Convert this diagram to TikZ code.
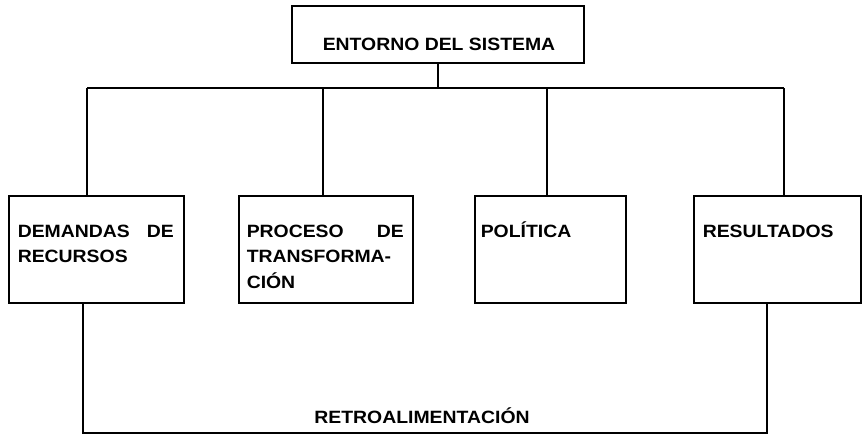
\documentclass[tikz,border=0pt]{standalone}
\usepackage{fontspec}
\setmainfont[FakeStretch=1.09,BoldFeatures={FakeStretch=1.09}]{Liberation Sans}
\begin{document}
\begin{tikzpicture}[x=1pt,y=-1pt,
  line width=1.5pt,
  box/.style={draw, line width=1.5pt, anchor=north west, inner sep=0pt, minimum height=107pt},
  txt/.style={anchor=base west, inner sep=0pt, font=\fontsize{17.8}{25.8}\selectfont\bfseries},
  ctxt/.style={anchor=base, inner sep=0pt, font=\fontsize{17.8}{25.8}\selectfont\bfseries}]
\useasboundingbox (0,0) rectangle (863,437);
% top box
\node[draw, line width=1.5pt, anchor=north west, inner sep=0pt, minimum width=292pt, minimum height=57pt] (top) at (291,5) {};
\node[ctxt] (toptxt) at (439,50) {ENTORNO DEL SISTEMA};
% boxes
\node[box, minimum width=175pt] (b1) at (8,195) {};
\node[box, minimum width=174pt] (b2) at (238,195) {};
\node[box, minimum width=151pt] (b3) at (474,195) {};
\node[box, minimum width=167pt] (b4) at (693,195) {};
% texts
\node[txt] (t1) at (17,237) {\parbox[t]{156pt}{\makebox[156pt][l]{DEMANDAS\hfill DE}\\RECURSOS}};
\node[txt] (t2) at (246,237) {\parbox[t]{157pt}{\makebox[157pt][l]{PROCESO\hfill DE}\\TRANSFORMA-\\CIÓN}};
\node[txt] (t3) at (480,237) {POLÍTICA};
\node[txt] (t4) at (702,237) {RESULTADOS};
% junctions
\coordinate (j1) at (87,88);
\coordinate (j2) at (323,88);
\coordinate (j3) at (547,88);
\coordinate (j4) at (784,88);
\draw (top.south) -- (top.south |- j1);
\draw (j1) -- (j4);
\draw (j1) -- (j1 |- b1.north);
\draw (j2) -- (j2 |- b2.north);
\draw (j3) -- (j3 |- b3.north);
\draw (j4) -- (j4 |- b4.north);
% feedback
\coordinate (f1) at (83,433);
\coordinate (f4) at (767,433);
\draw (f1 |- b1.south) -- (f1) -- (f4) -- (f4 |- b4.south);
\node[ctxt] (fb) at (422,423) {RETROALIMENTACIÓN};
\end{tikzpicture}
\end{document}
